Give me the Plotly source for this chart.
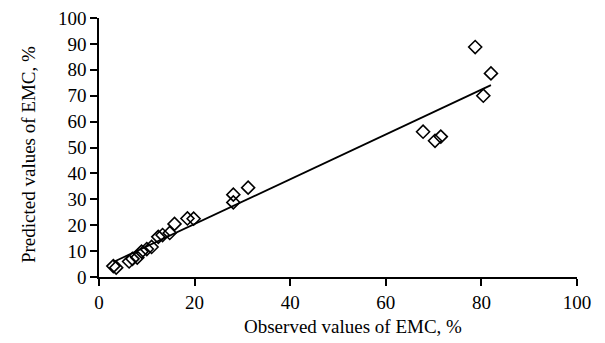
import numpy as np
import plotly.graph_objects as go

observed = [3.0, 3.6, 6.3, 7.0, 8.0, 8.9, 10.0, 11.0, 12.4, 13.3, 14.8, 15.8, 18.5, 19.8,
            28.1, 28.1, 31.2, 67.8, 70.3, 71.5, 78.7, 80.4, 82.0]
predicted = [4.2, 3.6, 6.0, 7.0, 7.5, 9.8, 10.8, 11.6, 15.5, 16.2, 17.0, 20.5, 22.6, 22.5,
             28.8, 31.8, 34.5, 56.1, 52.6, 54.2, 88.8, 70.0, 78.6]

x_ticks = [0, 20, 40, 60, 80, 100]
y_ticks = [0, 10, 20, 30, 40, 50, 60, 70, 80, 90, 100]

slope, intercept = np.polyfit(observed, predicted, 1)
line_x = np.array([min(observed), max(observed)])
line_y = slope * line_x + intercept

fig = go.Figure()
fig.add_trace(go.Scatter(x=line_x, y=line_y, mode="lines",
                         line=dict(color="black", width=1.8), showlegend=False))
fig.add_trace(go.Scatter(x=observed, y=predicted, mode="markers",
                         marker=dict(symbol="diamond-open", size=10, color="black",
                                     line=dict(width=1.6, color="black")),
                         showlegend=False))

font = dict(family="Liberation Serif, Times New Roman, serif", size=19, color="black")
fig.update_layout(
    width=605, height=343,
    margin=dict(l=91, r=36, t=10, b=74),
    paper_bgcolor="white", plot_bgcolor="white",
    font=font,
)
fig.update_xaxes(range=[0, 100], tickvals=x_ticks, showgrid=False, zeroline=False,
                 showline=True, linecolor="black", linewidth=1.5,
                 ticks="outside", ticklen=7, tickwidth=1.5, tickcolor="black",
                 tickfont=font, ticklabeloverflow="allow", automargin=False)
fig.update_yaxes(range=[0, 100], tickvals=y_ticks, showgrid=False, zeroline=False,
                 showline=True, linecolor="black", linewidth=1.5,
                 ticks="outside", ticklen=7, tickwidth=1.5, tickcolor="black",
                 tickfont=font, ticklabeloverflow="allow", automargin=False)
fig.add_annotation(text="Observed values of EMC, %", xref="paper", yref="paper",
                   x=0.531, y=-0.193, xanchor="center", yanchor="middle",
                   showarrow=False, font=font)
fig.add_annotation(text="Predicted values of EMC, %", xref="paper", yref="paper",
                   x=-0.1485, y=0.471, xanchor="center", yanchor="middle",
                   textangle=-90, showarrow=False, font=font)

fig.write_html("out.html")
